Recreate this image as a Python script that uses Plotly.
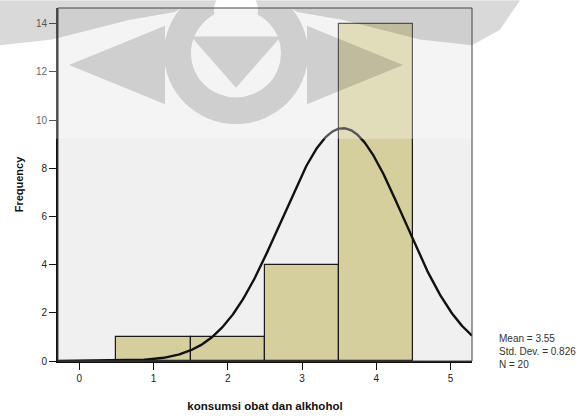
import base64
import numpy as np
import plotly.graph_objects as go

# Data
bin_centers = [1, 2, 3, 4]
counts = [1, 1, 4, 14]
mean_val = 3.55
std_val = 0.826
n_val = 20
x_ticks = [0, 1, 2, 3, 4, 5]
y_ticks = [0, 2, 4, 6, 8, 10, 12, 14]

bin_width = 1.0
x_min, x_max = -0.287, 5.29
y_max = 14.65

# Normal curve from the stated mean / std / N
xs = np.linspace(x_min, x_max, 400)
ys = n_val * bin_width / (std_val * np.sqrt(2 * np.pi)) * np.exp(-0.5 * ((xs - mean_val) / std_val) ** 2)

W, H = 579, 419
ML, MR, MT, MB = 58, 107, 8, 52
PW, PH = W - ML - MR, H - MT - MB

fig = go.Figure()
fig.add_trace(go.Bar(
    x=bin_centers, y=counts, width=bin_width,
    marker=dict(color="#d4cf9c", line=dict(color="#1a1a1a", width=1.2)),
    hoverinfo="skip", showlegend=False,
))
fig.add_trace(go.Scatter(
    x=xs, y=ys, mode="lines",
    line=dict(color="#111111", width=2.4),
    hoverinfo="skip", showlegend=False, cliponaxis=True,
))

# faint background watermark (decorative, as in the scanned reference)
wm_svg = f'''<svg xmlns="http://www.w3.org/2000/svg" width="{W}" height="{H}" viewBox="0 0 {W} {H}">
<defs><mask id="m">
<rect x="0" y="0" width="{W}" height="{H}" fill="#000"/>
<polygon points="-5,-5 200,-5 175,12 130,20 52,40 0,46 -5,46" fill="#fff"/>
<polygon points="272,-5 525,-5 520,0 500,30 472,46 420,40 342,20 297,12" fill="#fff"/>
<polygon points="69,66 165,26 165,106" fill="#fff"/>
<polygon points="403,66 307,26 307,106" fill="#fff"/>
<circle cx="236" cy="54" r="72" fill="#fff"/>
<circle cx="236" cy="54" r="45" fill="#000"/>
<ellipse cx="236" cy="10" rx="22" ry="22" fill="#000"/>
<polygon points="191,37 281,37 236,89" fill="#fff"/>
</mask></defs>
<rect x="0" y="0" width="{W}" height="141" fill="#fff" fill-opacity="0.3"/>
<rect x="0" y="0" width="{W}" height="{H}" fill="#000" fill-opacity="0.15" mask="url(#m)"/>
</svg>'''
wm_src = "data:image/svg+xml;base64," + base64.b64encode(wm_svg.encode()).decode()

font_family = "Liberation Sans, Arial, sans-serif"

fig.update_layout(
    width=W, height=H,
    margin=dict(l=ML, r=MR, t=MT, b=MB),
    paper_bgcolor="white",
    plot_bgcolor="#f0f0f0",
    font=dict(family=font_family, size=10, color="#222222"),
    bargap=0,
    xaxis=dict(
        range=[x_min, x_max],
        tickvals=x_ticks,
        ticktext=[str(v) for v in x_ticks],
        ticks="outside", ticklen=7, tickwidth=1.3, tickcolor="#111111",
        showline=True, linecolor="#111111", linewidth=2,
        showgrid=False, zeroline=False,
        tickfont=dict(size=10, color="#222222"),
        title=dict(text="<b>konsumsi obat dan alkhohol</b>",
                   font=dict(size=11.5, color="#111111"), standoff=19),
        fixedrange=True,
    ),
    yaxis=dict(
        range=[0, y_max],
        tickvals=y_ticks,
        ticktext=[str(v) for v in y_ticks],
        ticks="outside", ticklen=7, tickwidth=1.3, tickcolor="#111111",
        showline=True, linecolor="#111111", linewidth=2,
        showgrid=False, zeroline=False,
        tickfont=dict(size=10, color="#222222"),
        title=dict(text="<b>Frequency</b>",
                   font=dict(size=11, color="#111111"), standoff=10),
        fixedrange=True,
    ),
    shapes=[dict(type="rect", xref="paper", yref="paper", x0=0, y0=0, x1=1, y1=1,
                 line=dict(color="#444444", width=1), layer="above")],
    images=[dict(source=wm_src, xref="paper", yref="paper",
                 x=-ML / PW, y=1 + MT / PH, sizex=W / PW, sizey=H / PH,
                 xanchor="left", yanchor="top", sizing="stretch", layer="above")],
    annotations=[dict(
        xref="paper", yref="paper", x=(496.6 - ML) / PW, y=(H - MB - 357) / PH,
        xanchor="left", yanchor="middle", align="left", showarrow=False,
        text=f"Mean = {mean_val}<br>Std. Dev. = {std_val}<br>N = {n_val}",
        font=dict(size=10, color="#333333"),
    )],
)

fig.write_html("out.html", config={"displayModeBar": False},
               post_script="document.body.style.margin='0px';document.body.style.overflow='hidden';")
